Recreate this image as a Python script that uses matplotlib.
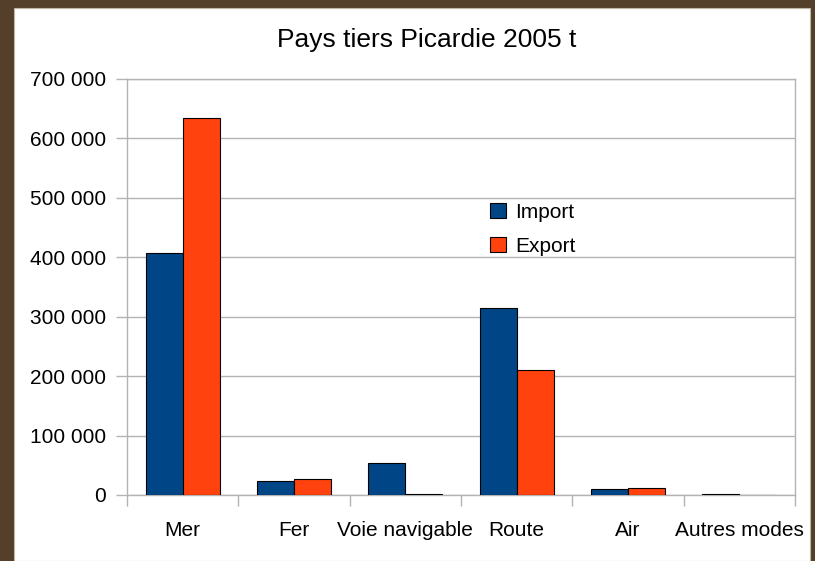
import matplotlib.pyplot as plt
import matplotlib.ticker
import numpy as np
from matplotlib.patches import Rectangle

plt.rcParams["font.family"] = ["Liberation Sans", "DejaVu Sans"]

categories = ["Mer", "Fer", "Voie navigable", "Route", "Air", "Autres modes"]
imports = [408000, 23000, 54000, 315000, 10000, 2500]
exports = [635000, 27500, 1000, 210000, 11500, 700]
y_ticks = [0, 100000, 200000, 300000, 400000, 500000, 600000, 700000]

blue = "#004586"
orange = "#ff420e"
grid = "#b3b3b3"
brown = "#54402a"

fig = plt.figure(figsize=(8.15, 5.61), dpi=100, facecolor=brown)
# white card inside the brown frame (drawn below the axes)
fig.patches.append(Rectangle((14 / 815, 0), 796 / 815, 553 / 561,
                             transform=fig.transFigure, facecolor="white",
                             edgecolor="#bfb6a6", linewidth=0.8, zorder=-1))

ax = fig.add_axes([127 / 815, 1 - 495 / 561, 668 / 815, 416 / 561])
ax.set_facecolor("none")

x = np.arange(len(categories))
w = 1 / 3
ax.bar(x - w / 2, imports, width=w, color=blue, edgecolor="black",
       linewidth=0.8, label="Import", zorder=3)
ax.bar(x + w / 2, exports, width=w, color=orange, edgecolor="black",
       linewidth=0.8, label="Export", zorder=3)

ax.set_xlim(-0.5, len(categories) - 0.5)
ax.set_ylim(0, 700000)
ax.set_yticks(y_ticks)
ax.yaxis.set_major_formatter(matplotlib.ticker.FuncFormatter(
    lambda v, p: f"{int(v):,}".replace(",", " ")))
ax.grid(axis="y", color=grid, linewidth=1, zorder=0)

# ticks on category borders, labels in the middle
ax.set_xticks(np.arange(len(categories) + 1) - 0.5)
ax.set_xticklabels([])
ax.set_xticks(x, minor=True)
ax.set_xticklabels(categories, minor=True)
ax.tick_params(axis="x", which="major", length=8, color=grid, width=1)
ax.tick_params(axis="x", which="minor", length=0, pad=19, labelsize=15)
ax.tick_params(axis="y", length=8, color=grid, width=1, pad=7, labelsize=15)

for side in ["left", "bottom", "right", "top"]:
    ax.spines[side].set_color(grid)
    ax.spines[side].set_linewidth(1)

fig.text(427 / 815, 1 - 40 / 561, "Pays tiers Picardie 2005 t",
         ha="center", va="center", fontsize=19)

ax.legend(loc="upper left", bbox_to_anchor=(490 / 815, 1 - 203 / 561),
          bbox_transform=fig.transFigure, frameon=False, fontsize=15,
          handlelength=0.75, handleheight=0.75, handletextpad=0.45,
          labelspacing=0.7, borderpad=0, borderaxespad=0)

fig.savefig("out.png", dpi=100, facecolor=brown)
